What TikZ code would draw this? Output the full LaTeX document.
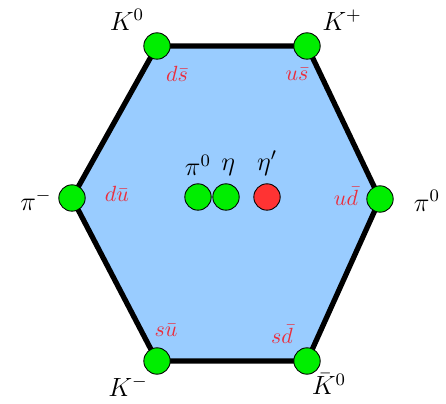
\documentclass[tikz,border=0pt]{standalone}
\usepackage{amsmath}
\usepackage{xcolor}
\usepackage{tikz}
\usetikzlibrary{positioning}

\definecolor{hexblue}{RGB}{153,204,255}
\definecolor{mesgreen}{RGB}{0,238,0}
\definecolor{mesred}{RGB}{255,51,51}
\definecolor{qred}{RGB}{235,45,60}

\begin{document}
\begin{tikzpicture}[x=0.455pt,y=-0.455pt,
    meson/.style={circle,draw=black,thin,fill=mesgreen,minimum size=12pt,inner sep=0pt},
    lbl/.style={font=\large},
    quark/.style={text=qred,font=\normalsize}]
        \useasboundingbox (0,0) rectangle (446,404);

        %------------------
        % 頂点
        %------------------
        \coordinate (ds) at (157,46);
        \coordinate (us) at (307,46);
        \coordinate (ud) at (380,199);
        \coordinate (sd) at (307,361);
        \coordinate (su) at (157,361);
        \coordinate (du) at (72,198);

        % 六角形
        \filldraw[fill=hexblue, line width=2.4pt, line join=miter]
          (ds) -- (us) -- (ud) -- (sd) -- (su) -- (du) -- cycle;

        %------------------
        % 中間子
        %------------------
        \node[meson] (K0)    at (ds) {};
        \node[meson] (Kp)    at (us) {};
        \node[meson] (pi0r)  at (ud) {};
        \node[meson] (K0bar) at (sd) {};
        \node[meson] (Km)    at (su) {};
        \node[meson] (pim)   at (du) {};

        \node[meson] (pi0c) at (198,197) {};
        \node[meson] (eta)  at (226,197) {};
        \node[meson, fill=mesred] (etap) at (267,197) {};

        % ラベル
        \node[lbl] at (127,20) {\(K^0\)};
        \node[lbl] at (342,20) {\(K^+\)};
        \node[lbl] at (36,200) {\(\pi^-\)};
        \node[lbl] at (427,201) {\(\pi^0\)};
        \node[lbl] at (128,386) {\(K^-\)};
        \node[lbl] at (329,384) {\(\bar{K}^0\)};

        \node[lbl, above=0pt of pi0c] {\(\pi^0\)};
        \node[lbl, above=0pt of eta, xshift=1pt] {\(\eta\)};
        \node[lbl, above=0pt of etap] {\(\eta'\)};

        % クォーク
        \node[quark] at (177,74) {\(d\bar{s}\)};
        \node[quark] at (297,74) {\(u\bar{s}\)};
        \node[quark] at (117,194) {\(d\bar{u}\)};
        \node[quark] at (346,196) {\(u\bar{d}\)};
        \node[quark] at (166,330) {\(s\bar{u}\)};
        \node[quark] at (282,334) {\(s\bar{d}\)};
      \end{tikzpicture}
\end{document}
